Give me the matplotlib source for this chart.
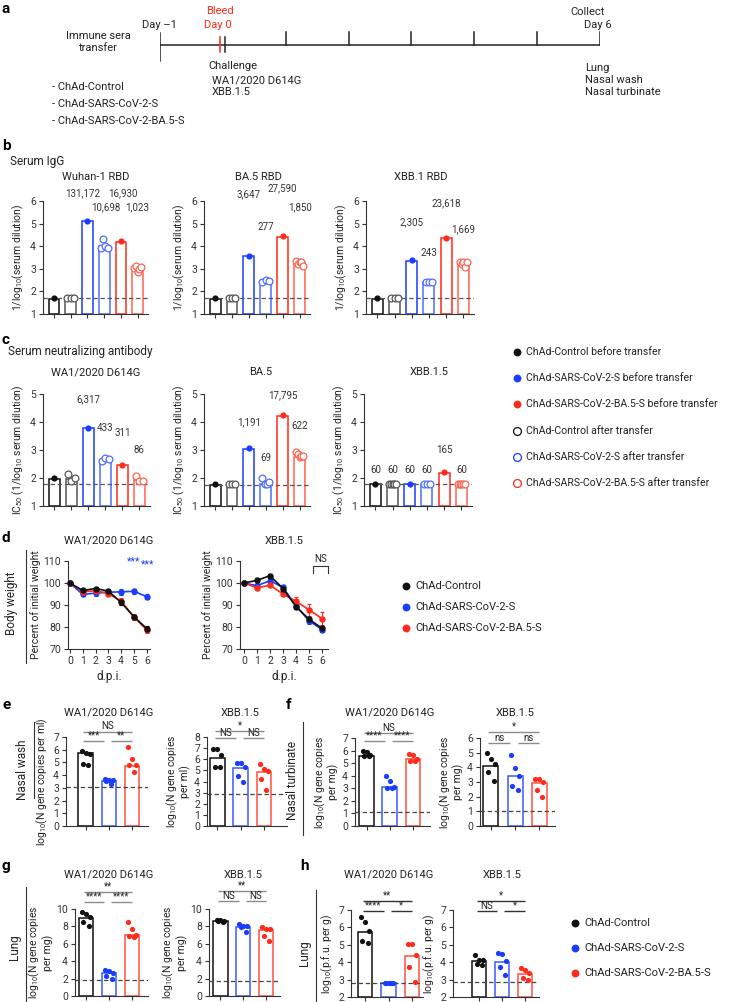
import matplotlib
matplotlib.use("Agg")
import matplotlib.pyplot as plt
import matplotlib.transforms as mtransforms
import numpy as np

plt.rcParams['font.family'] = ['Roboto', 'DejaVu Sans']
plt.rcParams['mathtext.fontset'] = 'custom'
plt.rcParams['mathtext.rm'] = 'Roboto'
plt.rcParams['mathtext.it'] = 'Roboto:italic'
plt.rcParams['mathtext.bf'] = 'Roboto:bold'
plt.rcParams['axes.linewidth'] = 0.8
plt.rcParams['axes.edgecolor'] = '#333333'
for a in ('xtick', 'ytick'):
    plt.rcParams[a + '.major.width'] = 0.8
    plt.rcParams[a + '.major.size'] = 3
    plt.rcParams[a + '.labelsize'] = 7.5
    plt.rcParams[a + '.major.pad'] = 2
    plt.rcParams[a + '.color'] = '#333333'
plt.rcParams['text.color'] = '#222222'
plt.rcParams['axes.labelcolor'] = '#222222'

# ---------------- DATA ----------------
# a: schedule
timeline_days = [-1, 0, 1, 2, 3, 4, 5, 6]
groups = ["ChAd-Control", "ChAd-SARS-CoV-2-S", "ChAd-SARS-CoV-2-BA.5-S"]
strains = ["WA1/2020 D614G", "XBB.1.5"]
tissues = ["Lung", "Nasal wash", "Nasal turbinate"]

# b: serum IgG (6 bars: ctrl before/after, S before/after, BA.5 before/after)
b_titles = ["Wuhan-1 RBD", "BA.5 RBD", "XBB.1 RBD"]
b_bars = [[1.68, 1.70, 5.10, 4.02, 4.20, 3.00],
          [1.68, 1.70, 3.55, 2.45, 4.40, 3.28],
          [1.68, 1.70, 3.33, 2.40, 4.35, 3.25]]
b_before = [[1.70, 5.12, 4.22], [1.72, 3.57, 4.45], [1.72, 3.37, 4.37]]
b_after = [[[1.70, 1.70, 1.70], [3.90, 4.30, 4.00, 3.92], [3.05, 3.12, 2.85, 3.00, 3.10]],
           [[1.70, 1.70, 1.70], [2.40, 2.50, 2.45], [3.35, 3.20, 3.30, 3.28, 3.12]],
           [[1.70, 1.70, 1.70], [2.40, 2.42, 2.40], [3.30, 3.20, 3.30, 3.08, 3.30]]]
b_lod = [1.72, 1.72, 1.72]
b_gmt = [["131,172", "10,698", "16,930", "1,023"],
         ["3,647", "277", "27,590", "1,850"],
         ["2,305", "243", "23,618", "1,669"]]
b_gmt_x = [[1.7, 3.1, 4.1, 5.0], [2.0, 3.0, 4.0, 5.0], [2.0, 3.0, 4.0, 5.0]]
b_gmt_y = [[6.35, 5.73, 6.35, 5.73], [6.3, 4.85, 6.57, 5.73], [5.07, 3.7, 5.9, 4.76]]

# c: serum neutralizing antibody
c_titles = ["WA1/2020 D614G", "BA.5", "XBB.1.5"]
c_bars = [[1.98, 1.98, 3.78, 2.65, 2.47, 1.93],
          [1.75, 1.77, 3.05, 1.80, 4.22, 2.75],
          [1.77, 1.77, 1.77, 1.77, 2.18, 1.77]]
c_before = [[2.00, 3.80, 2.48], [1.78, 3.08, 4.25], [1.78, 1.78, 2.20]]
c_after = [[[2.15, 1.90, 2.00], [2.60, 2.70, 2.68], [2.07, 1.90, 1.90]],
           [[1.78, 1.78, 1.78], [2.00, 1.80, 1.78, 1.85], [2.92, 2.85, 2.75, 2.78, 2.80]],
           [[1.78, 1.78, 1.78, 1.78, 1.78], [1.78, 1.78, 1.78], [1.78, 1.78, 1.78, 1.78, 1.78]]]
c_lod = [1.78, 1.75, 1.78]
c_gmt = [["6,317", "433", "311", "86"],
         ["1,191", "69", "17,795", "622"],
         ["60", "60", "60", "60", "165", "60"]]
c_gmt_x = [[2, 3, 4, 5], [2, 3, 4, 5], [0, 1, 2, 3, 4, 5]]
c_gmt_y = [[4.8, 3.8, 3.6, 3.0], [4.0, 2.7, 4.95, 3.85], [2.3, 2.3, 2.3, 2.3, 3.0, 2.3]]
c_legend = ["ChAd-Control before transfer", "ChAd-SARS-CoV-2-S before transfer",
            "ChAd-SARS-CoV-2-BA.5-S before transfer", "ChAd-Control after transfer",
            "ChAd-SARS-CoV-2-S after transfer", "ChAd-SARS-CoV-2-BA.5-S after transfer"]

# d: body weight
d_days = [0, 1, 2, 3, 4, 5, 6]
d_wa1_ctrl = [100, 96.6, 97.5, 96.3, 91.2, 84.6, 79.3]
d_wa1_s = [100, 94.8, 95.4, 95.8, 96.0, 96.2, 93.8]
d_wa1_ba5 = [100, 96.0, 96.5, 95.2, 91.6, 84.6, 78.6]
d_wa1_ctrl_err = [0.3, 0.6, 0.7, 0.6, 1.2, 1.0, 1.0]
d_wa1_s_err = [0.3, 0.9, 1.1, 1.2, 1.3, 1.0, 1.0]
d_wa1_ba5_err = [0.3, 0.6, 0.7, 1.2, 1.5, 1.2, 1.2]
d_xbb_ctrl = [100, 101.2, 103.3, 97.5, 89.2, 83.5, 79.4]
d_xbb_s = [100, 98.8, 101.0, 98.0, 89.6, 82.8, 78.8]
d_xbb_ba5 = [100, 97.8, 99.0, 95.0, 91.6, 87.8, 83.8]
d_xbb_ctrl_err = [0.3, 0.8, 0.9, 1.0, 1.0, 1.0, 1.0]
d_xbb_s_err = [0.3, 1.0, 1.0, 1.2, 1.0, 1.5, 1.0]
d_xbb_ba5_err = [0.3, 0.8, 0.9, 1.0, 2.0, 2.8, 3.0]

# e: nasal wash (log10 N gene copies per ml)
e_wa1_bars = [5.75, 3.55, 4.75]
e_wa1_pts = [[5.70, 5.90, 5.78, 4.80, 4.85], [3.72, 3.62, 3.52, 3.30, 3.58], [6.25, 5.30, 4.80, 4.78, 4.22]]
e_wa1_lod = 3.05
e_wa1_sig = [("***", 1, 2, 6.7), ("**", 2, 3, 6.7), ("NS", 1, 3, 7.4)]
e_xbb_bars = [6.15, 5.20, 4.85]
e_xbb_pts = [[6.9, 6.9, 6.4, 5.3, 5.3], [5.7, 5.7, 5.3, 4.5, 4.0], [5.6, 5.1, 4.9, 4.2, 3.2]]
e_xbb_lod = 2.9
e_xbb_sig = [("NS", 1, 2, 7.9), ("NS", 2, 3, 7.9), ("*", 1, 3, 8.55)]

# f: nasal turbinate (per mg)
f_wa1_bars = [5.60, 3.10, 5.30]
f_wa1_pts = [[6.0, 5.9, 5.65, 5.6, 5.6], [4.0, 3.6, 3.1, 3.0, 3.0], [5.75, 5.65, 5.35, 5.2, 5.2]]
f_wa1_lod = 1.15
f_wa1_sig = [("****", 1, 2, 6.76), ("****", 2, 3, 6.76), ("NS", 1, 3, 7.4)]
f_xbb_bars = [4.10, 3.40, 2.95]
f_xbb_pts = [[5.0, 4.6, 4.2, 3.7, 3.1], [4.85, 3.95, 3.4, 2.75, 2.45], [3.2, 3.2, 3.0, 2.45, 2.0]]
f_xbb_lod = 1.05
f_xbb_sig = [("ns", 1, 2, 5.66), ("ns", 2, 3, 5.66), ("*", 1, 3, 6.4)]

# g: lung (N gene copies per mg)
g_wa1_bars = [9.0, 2.65, 7.0]
g_wa1_pts = [[9.6, 9.4, 9.1, 8.5, 8.0], [3.0, 2.9, 2.6, 2.3, 1.9], [8.5, 7.7, 7.0, 6.9, 6.8]]
g_wa1_lod = 1.8
g_wa1_sig = [("****", 1, 2, 10.8), ("****", 2, 3, 10.8), ("**", 1, 3, 11.95)]
g_xbb_bars = [8.6, 7.95, 7.6]
g_xbb_pts = [[8.7, 8.7, 8.65, 8.6, 8.5], [8.3, 8.0, 8.0, 7.9, 7.4], [7.9, 7.7, 7.7, 6.9, 6.3]]
g_xbb_lod = 1.7
g_xbb_sig = [("NS", 1, 2, 10.9), ("NS", 2, 3, 10.9), ("**", 1, 3, 12.05)]

# h: lung (p.f.u. per g)
h_wa1_bars = [5.75, 2.80, 4.35]
h_wa1_pts = [[6.6, 6.3, 5.8, 5.2, 5.1], [2.8, 2.8, 2.8, 2.8, 2.8], [5.05, 5.05, 4.4, 3.7, 2.85]]
h_wa1_lod = 2.8
h_wa1_sig = [("****", 1, 2, 6.94), ("*", 2, 3, 6.94), ("**", 1, 3, 7.52)]
h_xbb_bars = [4.05, 4.00, 3.35]
h_xbb_pts = [[4.4, 4.15, 4.1, 3.9, 3.85], [4.55, 4.45, 4.05, 3.7, 3.25], [3.65, 3.55, 3.4, 3.1, 2.95]]
h_xbb_lod = 2.85
h_xbb_sig = [("NS", 1, 2, 6.94), ("*", 2, 3, 6.94), ("*", 1, 3, 7.52)]

# ---------------- STYLE ----------------
BLK = '#111111'
GRY = '#555555'
BLU = '#1a3cff'
LBLU = '#4f6dff'
RED = '#ff2a1a'
LRED = '#ff6352'
EDGE6 = [BLK, GRY, BLU, LBLU, RED, LRED]
PT6 = [BLK, BLK, BLU, BLU, RED, RED]
BAR3 = [BLK, '#3a5aff', '#ff5040']
DOT3 = [BLK, BLU, RED]
FS_T = 8      # titles
FS_L = 8      # legends
FS_Y = 7.5    # axis labels
FS_S = 8.5    # section labels

W, H = 729, 1002
fig = plt.figure(figsize=(W / 100, H / 100), dpi=100)


def add_ax(x0, x1, y0, y1):
    return fig.add_axes([x0 / W, 1 - y1 / H, (x1 - x0) / W, (y1 - y0) / H])


def ftext(x, y, s, **kw):
    kw.setdefault('va', 'center')
    fig.text(x / W, 1 - y / H, s, **kw)


ov = fig.add_axes([0, 0, 1, 1])
ov.set_xlim(0, W)
ov.set_ylim(H, 0)
ov.axis('off')


def style_ax(ax):
    for s in ('top', 'right'):
        ax.spines[s].set_visible(False)
    ax.patch.set_alpha(0)


# panel letters
for letter, x, y in [('a', 2, 9), ('b', 2, 146), ('c', 2, 340), ('d', 2, 538),
                     ('e', 2, 705), ('f', 286, 705), ('g', 2, 866), ('h', 300, 866)]:
    ftext(x, y, letter, fontsize=11, fontweight='bold', color='black')

# ---------------- a ----------------
ax_a = add_ax(160, 600, 0, 140)
ax_a.set_xlim(timeline_days[0], timeline_days[-1])
ax_a.set_ylim(140, 0)
ax_a.axis('off')
ax_a.plot([timeline_days[0], timeline_days[-1]], [45, 45], color='#222', lw=1.1, solid_capstyle='butt')
for d in timeline_days:
    if d == -1:
        ax_a.plot([d, d], [33, 61], color='#222', lw=1.1)
    elif d == 0:
        ax_a.plot([d - 0.045, d - 0.045], [37, 52], color=RED, lw=1.1)
        ax_a.plot([d + 0.035, d + 0.035], [37, 52], color='#222', lw=1.1)
    else:
        ax_a.plot([d, d], [32, 45], color='#222', lw=1.1)

ftext(220, 11, "Bleed", color=RED, fontsize=FS_T, ha='center')
ftext(218, 25, "Day 0", color=RED, fontsize=FS_T, ha='center')
ftext(159, 25, "Day \u20131", fontsize=FS_T, ha='center')
ftext(98, 42, "Immune sera\ntransfer", fontsize=FS_T, ha='center', linespacing=1.2)
ftext(588, 12, "Collect", fontsize=FS_T, ha='center')
ftext(598, 25, "Day 6", fontsize=FS_T, ha='center')
ftext(208, 66, "Challenge", fontsize=FS_T, ha='left')
for i, s in enumerate(strains):
    ftext(212, 81 + 11 * i, s, fontsize=FS_T, ha='left')
for i, s in enumerate(tissues):
    ftext(585, 68 + 12 * i, s, fontsize=FS_T, ha='left')
for i, s in enumerate(groups):
    ftext(52, 87 + 17 * i, "- " + s, fontsize=FS_T, ha='left')


# ---------------- b & c ----------------
def transfer_panel(ax, bars, before, after, lod, ymax):
    x = np.arange(6)
    for i in range(6):
        ax.bar(x[i], bars[i] - 1, bottom=1, width=0.64, facecolor='white',
               edgecolor=EDGE6[i], linewidth=1.1, zorder=2)
    ax.axhline(lod, ls=(0, (3.5, 2.2)), color='#555555', lw=0.9, zorder=3)
    for k, i in enumerate([0, 2, 4]):
        ax.scatter([x[i]], [before[k]], s=20, color=PT6[i], zorder=5, linewidths=0, clip_on=False)
    for k, i in enumerate([1, 3, 5]):
        pts = np.asarray(after[k])
        n = len(pts)
        offs = np.linspace(-0.2, 0.2, n) if n > 1 else np.zeros(1)
        ax.scatter(x[i] + offs, pts, s=24, facecolor='white', edgecolor=EDGE6[i],
                   linewidth=0.9, zorder=5, clip_on=False)
    ax.set_xlim(-0.66, 5.62)
    ax.set_ylim(1, ymax)
    ax.set_yticks(range(1, ymax + 1))
    ax.set_xticks(x)
    ax.set_xticklabels([])
    style_ax(ax)


ftext(10, 162, "Serum IgG", fontsize=FS_S, ha='left')
b_pos = [(43, 148), (204, 310), (366, 474)]
b_title_x = [96, 258, 421]
for p in range(3):
    ax = add_ax(b_pos[p][0], b_pos[p][1], 201, 314)
    transfer_panel(ax, b_bars[p], b_before[p], b_after[p], b_lod[p], 6)
    ax.set_ylabel("1/log$_{10}$(serum dilution)", fontsize=FS_Y, labelpad=3)
    for t, bx, yv in zip(b_gmt[p], b_gmt_x[p], b_gmt_y[p]):
        ax.text(bx, yv, t, ha='center', va='center', fontsize=7, color='#333', clip_on=False)
    ftext(b_title_x[p], 177, b_titles[p], fontsize=FS_T, ha='center')

ftext(8, 351, "Serum neutralizing antibody", fontsize=FS_S, ha='left')
c_pos = [(43, 150), (204, 310), (364, 472)]
c_title_x = [96, 261, 429]
for p in range(3):
    ax = add_ax(c_pos[p][0], c_pos[p][1], 394, 506)
    transfer_panel(ax, c_bars[p], c_before[p], c_after[p], c_lod[p], 5)
    ax.set_ylabel("IC$_{50}$ (1/log$_{10}$ serum dilution)", fontsize=FS_Y, labelpad=3)
    for t, bx, yv in zip(c_gmt[p], c_gmt_x[p], c_gmt_y[p]):
        ax.text(bx, yv, t, ha='center', va='center', fontsize=7, color='#333', clip_on=False)
    ftext(c_title_x[p], 372, c_titles[p], fontsize=FS_T, ha='center')

# c legend
c_leg_y = [352, 378, 404, 431, 457, 483]
c_leg_col = [BLK, BLU, RED, BLK, BLU, RED]
for i, lab in enumerate(c_legend):
    if i < 3:
        ov.scatter([517], [c_leg_y[i]], s=32, color=c_leg_col[i], linewidths=0)
    else:
        ov.scatter([517], [c_leg_y[i]], s=32, facecolor='white', edgecolor=c_leg_col[i], linewidth=0.9)
    ftext(526, c_leg_y[i], lab, fontsize=7.6, ha='left')

# ---------------- d ----------------
ov.plot([26, 26], [550, 663], color='#333', lw=0.8)
ftext(12, 603, "Body weight", fontsize=FS_S, rotation=90, ha='center')


def weight_panel(ax, ctrl, s, ba5, ce, se, be, xlim):
    for vals, err, col in [(s, se, BLU), (ba5, be, RED), (ctrl, ce, BLK)]:
        ax.errorbar(d_days, vals, yerr=err, color=col, marker='o', ms=3.6, lw=1.2,
                    capsize=1.6, elinewidth=0.8, capthick=0.8, zorder=3, clip_on=False)
    ax.set_xlim(*xlim)
    ax.set_ylim(70, 110)
    ax.set_yticks([70, 80, 90, 100, 110])
    ax.set_xticks(d_days)
    ax.set_ylabel("Percent of initial weight", fontsize=FS_Y, labelpad=2)
    ax.set_xlabel("d.p.i.", fontsize=8.5, labelpad=3)
    style_ax(ax)


ax = add_ax(68, 150, 561, 649)
weight_panel(ax, d_wa1_ctrl, d_wa1_s, d_wa1_ba5, d_wa1_ctrl_err, d_wa1_s_err, d_wa1_ba5_err, (-0.15, 6.25))
ax.text(5, 109.6, "***", color=BLU, fontsize=7.5, ha='center', va='center', clip_on=False)
ax.text(6.1, 108.6, "***", color=BLU, fontsize=7.5, ha='center', va='center', clip_on=False)
ftext(109, 541, strains[0], fontsize=FS_T, ha='center')

ax = add_ax(240, 328, 561, 649)
weight_panel(ax, d_xbb_ctrl, d_xbb_s, d_xbb_ba5, d_xbb_ctrl_err, d_xbb_s_err, d_xbb_ba5_err, (-0.3, 6.45))
ax.plot([5.3, 5.3, 6.45, 6.45], [104.5, 107.7, 107.7, 104.5], color='#333', lw=0.8, clip_on=False)
ax.text(5.88, 110.9, "NS", fontsize=7, ha='center', va='center', clip_on=False)
ftext(284, 541, strains[1], fontsize=FS_T, ha='center')

d_leg_y = [586, 607, 628]
for i, g in enumerate(groups):
    ov.scatter([406], [d_leg_y[i]], s=32, color=DOT3[i], linewidths=0)
    ftext(415, d_leg_y[i], g, fontsize=FS_L, ha='left')


# ---------------- e-h ----------------
def dot_panel(ax, bars, pts, lod, sig, ylim, yticks, xlim, ylabel, sigcol='#8c8c8c'):
    offs_pattern = [-0.17, 0.0, 0.17, -0.11, 0.11]
    for i in range(3):
        ax.bar(i + 1, bars[i] - ylim[0], bottom=ylim[0], width=0.62, facecolor='white',
               edgecolor=BAR3[i], linewidth=1.1, zorder=2)
        p = np.sort(np.asarray(pts[i]))[::-1]
        xs = i + 1 + np.asarray(offs_pattern[:len(p)])
        ax.scatter(xs, p, s=14, color=DOT3[i], zorder=5, linewidths=0, clip_on=False)
    ax.axhline(lod, ls=(0, (3.5, 2.2)), color='#444444', lw=0.9, zorder=3)
    for txt, a, b, yv in sig:
        if b - a == 1 and a == 1:
            x0, x1 = 0.9, 1.8
        elif b - a == 1:
            x0, x1 = 2.1, 3.0
        else:
            x0, x1 = 0.9, 3.0
        ax.plot([x0, x1], [yv, yv], color=sigcol, lw=1.0, clip_on=False, solid_capstyle='butt')
        ax.annotate(txt, xy=((x0 + x1) / 2, yv), xytext=(0, 0.3), textcoords='offset points',
                    ha='center', va='bottom', fontsize=7, color='#222', annotation_clip=False)
    ax.set_xlim(*xlim)
    ax.set_ylim(*ylim)
    ax.set_yticks(yticks)
    ax.set_xticks([1, 2, 3])
    ax.set_xticklabels([])
    ax.set_ylabel(ylabel, fontsize=FS_Y, labelpad=2, linespacing=1.0)
    style_ax(ax)


def title_over(ax, y, s):
    tr = mtransforms.blended_transform_factory(ax.transData, fig.transFigure)
    fig.text(2, 1 - y / H, s, transform=tr, fontsize=FS_T, ha='center', va='center')


# e
ov.plot([34, 34], [722, 798], color='#333', lw=0.8)
ftext(22, 770, "Nasal wash", fontsize=FS_S, rotation=90, ha='center')
ax = add_ax(66, 148, 737, 826)
dot_panel(ax, e_wa1_bars, e_wa1_pts, e_wa1_lod, e_wa1_sig, (0, 7), range(0, 8), (0.15, 3.7),
          "log$_{10}$(N gene copies per ml)")
title_over(ax, 713, strains[0])
ax = add_ax(207, 287, 737, 826)
dot_panel(ax, e_xbb_bars, e_xbb_pts, e_xbb_lod, e_xbb_sig, (0, 8), range(0, 9), (0.55, 4.0),
          "log$_{10}$(N gene copies\nper ml)")
title_over(ax, 713, strains[1])

# f
ov.plot([303, 303], [722, 835], color='#333', lw=0.8)
ftext(292, 780, "Nasal turbinate", fontsize=FS_S, rotation=90, ha='center')
ax = add_ax(355, 430, 738, 826)
dot_panel(ax, f_wa1_bars, f_wa1_pts, f_wa1_lod, f_wa1_sig, (0, 7), range(0, 8), (0.5, 3.75),
          "log$_{10}$(N gene copies\nper mg)")
title_over(ax, 713, strains[0])
ax = add_ax(480, 555, 738, 826)
dot_panel(ax, f_xbb_bars, f_xbb_pts, f_xbb_lod, f_xbb_sig, (0, 6), range(0, 7), (0.55, 3.65),
          "log$_{10}$(N gene copies\nper mg)")
title_over(ax, 713, strains[1])

# g
ov.plot([26, 26], [887, 1002], color='#333', lw=0.8)
ftext(14, 947, "Lung", fontsize=FS_S, rotation=90, ha='center')
ax = add_ax(75, 148, 909, 996)
dot_panel(ax, g_wa1_bars, g_wa1_pts, g_wa1_lod, g_wa1_sig, (0, 10), range(0, 11, 2), (0.52, 3.7),
          "log$_{10}$(N gene copies\nper mg)")
title_over(ax, 875, strains[0])
ax = add_ax(209, 280, 909, 996)
dot_panel(ax, g_xbb_bars, g_xbb_pts, g_xbb_lod, g_xbb_sig, (0, 10), range(0, 11, 2), (0.5, 3.6),
          "log$_{10}$(N gene copies\nper mg)")
title_over(ax, 875, strains[1])

# h
ov.plot([316, 316], [890, 1002], color='#333', lw=0.8)
ftext(305, 953, "Lung", fontsize=FS_S, rotation=90, ha='center')
ax = add_ax(351, 423, 910, 997)
dot_panel(ax, h_wa1_bars, h_wa1_pts, h_wa1_lod, h_wa1_sig, (2, 7), range(2, 8), (0.4, 3.47),
          "log$_{10}$(p.f.u. per g)", sigcol='#333333')
title_over(ax, 875, strains[0])
ax = add_ax(453, 539, 910, 997)
dot_panel(ax, h_xbb_bars, h_xbb_pts, h_xbb_lod, h_xbb_sig, (2, 7), range(2, 8), (-0.13, 3.6),
          "log$_{10}$(p.f.u. per g)", sigcol='#333333')
title_over(ax, 875, strains[1])

g_leg_y = [923, 948, 973]
for i, g in enumerate(groups):
    ov.scatter([575], [g_leg_y[i]], s=32, color=DOT3[i], linewidths=0)
    ftext(584, g_leg_y[i], g, fontsize=FS_L, ha='left')

fig.savefig("out.png", dpi=100)
